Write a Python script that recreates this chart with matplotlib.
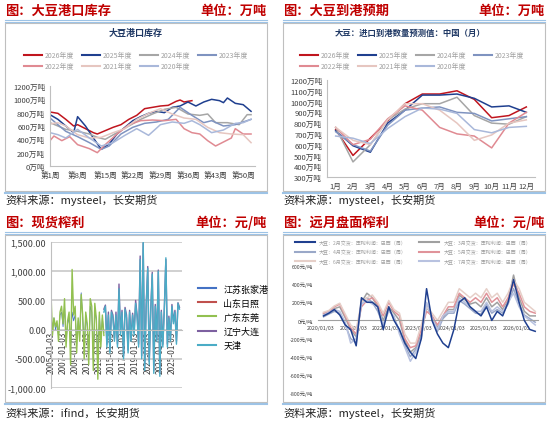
import numpy as np
import pandas as pd
import matplotlib
matplotlib.use("Agg")
import matplotlib.pyplot as plt
from matplotlib.patches import Rectangle
from matplotlib.lines import Line2D

plt.rcParams["font.family"] = ["Noto Sans CJK SC", "DejaVu Sans"]

W, H = 550, 427

# ---------------- data: port inventory (weekly) ----------------
inv = {
    "2026年度": ([1, 3, 5, 7, 8, 10, 12, 13, 15, 17, 19, 21, 23, 25, 27, 29, 31, 33, 34, 35, 37],
               [810, 790, 700, 600, 620, 560, 500, 480, 530, 580, 620, 700, 760, 860, 880, 900, 910, 970, 990, 960, 980]),
    "2025年度": ([1, 3, 5, 7, 8, 10, 12, 14, 16, 18, 20, 22, 24, 26, 28, 30, 32, 34, 36, 38, 40, 42, 44, 45, 46, 48, 50, 52],
               [770, 700, 600, 500, 740, 600, 420, 250, 330, 480, 580, 680, 740, 790, 820, 800, 880, 900, 960, 900, 960, 1000, 980, 950, 1020, 940, 920, 820]),
    "2024年度": ([1, 3, 5, 8, 11, 13, 15, 18, 21, 24, 27, 30, 33, 36, 39, 41, 43, 46, 49, 51, 52],
               [650, 600, 550, 520, 480, 430, 400, 500, 600, 700, 780, 850, 880, 780, 760, 780, 650, 650, 620, 770, 770]),
    "2023年度": ([1, 3, 5, 8, 11, 14, 16, 19, 22, 25, 28, 31, 34, 37, 40, 42, 45, 48, 50, 52],
               [720, 620, 520, 440, 350, 250, 300, 480, 580, 640, 660, 700, 880, 760, 650, 680, 600, 620, 660, 700]),
    "2022年度": ([1, 2, 4, 6, 8, 11, 13, 15, 18, 21, 24, 27, 30, 33, 35, 37, 39, 41, 43, 45, 47, 48, 50, 52],
               [380, 450, 380, 440, 320, 260, 200, 320, 480, 620, 680, 690, 680, 700, 560, 500, 480, 380, 300, 360, 420, 560, 480, 480]),
    "2021年度": ([1, 3, 5, 8, 11, 14, 17, 20, 23, 26, 29, 32, 35, 38, 41, 44, 47, 50, 52],
               [630, 650, 600, 470, 420, 430, 500, 560, 700, 790, 860, 780, 720, 700, 580, 500, 480, 470, 350]),
    "2020年度": ([1, 3, 5, 8, 11, 14, 17, 20, 23, 26, 29, 32, 35, 37, 39, 42, 45, 48, 50, 52],
               [500, 470, 420, 550, 420, 300, 350, 460, 560, 460, 620, 660, 640, 680, 620, 500, 540, 640, 650, 700]),
}
year_colors = {"2026年度": "#C0151E", "2025年度": "#1F3F8F", "2024年度": "#A6A6A6", "2023年度": "#7F93C0",
               "2022年度": "#E08A92", "2021年度": "#E6C6C0", "2020年度": "#A9B8DA"}

# ---------------- data: arrivals forecast (monthly) ----------------
months = ["1月", "2月", "3月", "4月", "5月", "6月", "7月", "8月", "9月", "10月", "11月", "12月"]
arr = {
    "2026年度": [740, 500, 660, 820, 980, 1070, 1070, 1100, 1020, 850, 870, 950],
    "2025年度": [730, 590, 530, 800, 920, 1060, 1060, 1070, 1030, 950, 960, 900],
    "2024年度": [760, 440, 600, 830, 930, 980, 980, 1040, 870, 800, 790, 860],
    "2023年度": [720, 600, 540, 780, 920, 940, 950, 900, 890, 820, 840, 860],
    "2022年度": [760, 600, 650, 840, 960, 920, 760, 700, 680, 570, 800, 900],
    "2021年度": [760, 640, 600, 830, 980, 980, 920, 800, 640, 690, 800, 830],
    "2020年度": [680, 660, 610, 750, 860, 940, 930, 890, 740, 710, 760, 770],
}

# ---------------- data: spot crush margin (quarterly) ----------------
gd_vals = [650, -100, 200, 50, 150, -200, 300, 400, 100, 530, -300, 150, 300, -600, 1030, 250, 400, -400,
           200, -200, 600, 250, -500, 300, 100, -600, 530, 400, -700, 450, 200, -850, 300, -300, 250, -100]
js_vals = [0, 50, 200, 0, 100, -100, 250, 300, 50, 400, -200, 100, 200, -300, 300, 150, 250, -200,
           150, -100, 630, 200, -300, 250, 50, -400, 400, 300, -500, 350, 150, -500, 250, -200, 200, -50]
tj_vals = [300, 400, -300, 250, -400, 300, 200, -200, 250, -300, 700, -100, 300, -500, 350, 200, -400, 300,
           -200, 250, -100, 450, 200, -300, 1200, -500, 1500, -700, 400, 1050, -600, 300, 950, -750, 400, -200,
           1000, -800, 300, -300, 350, 1230, -300, 200, -200, 400, 100, 300, -250, 450, 350]
ln_vals = [350, 420, -250, 300, -350, 330, 250, -150, 300, -250, 780, -50, 330, -450, 380, 250, -350, 330,
           -150, 280, -50, 500, 250, -250, 1260, -450, 1480, -650, 450, 1080, -550, 350, 980, -700, 430, -150,
           1020, -750, 330, -250, 380, 1200, -250, 230, -150, 430, 130, 330, -200, 460, 380]
gd_dates = pd.date_range("2005-01-01", periods=len(gd_vals), freq="QS")
tj_dates = pd.date_range("2013-10-01", periods=len(tj_vals), freq="QS")

# ---------------- data: futures crush margin (bi-monthly) ----------------
fut = {
    "大豆：2月交货：压榨利润：巴西（周）": [50, 80, 120, 60, -50, -100, -280, 250, 200, 200, 150, -100, 150, 0, -100, -250, -350, -420,
                          -200, 350, 0, -150, -250, -300, -100, 200, 250, 150, 100, 50, 150, 0, 100, 50, 200, 450,
                          200, 0, -100, -120],
    "大豆：3月交货：压榨利润：巴西（周）": [70, 90, 130, 150, 30, -100, -180, 200, 300, 250, 150, 0, 150, 80, 0, -220, -350, -300,
                          -150, 150, 50, -80, 30, 120, 120, 280, 230, 180, 200, 150, 250, 150, 200, 120, 220, 500,
                          250, 100, 50, 50],
    "大豆：4月交货：压榨利润：巴西（周）": [40, 70, 100, 80, -50, -200, -250, 200, 250, 200, 100, -50, 120, 30, -120, -280, -400, -320,
                          -180, 180, 20, -120, 20, 80, 80, 220, 180, 130, 80, 70, 180, 80, 120, 80, 180, 350,
                          180, 60, 20, -20],
    "大豆：5月交货：压榨利润：巴西（周）": [80, 100, 150, 180, 50, -80, -150, 150, 220, 250, 180, 50, 200, 100, 50, -200, -300, -280,
                          -100, 100, 50, -50, 50, 150, 150, 300, 250, 200, 250, 200, 300, 200, 250, 150, 250, 400,
                          300, 150, 100, 80],
    "大豆：6月交货：压榨利润：巴西（周）": [90, 110, 160, 190, 70, -50, -100, 200, 250, 280, 200, 80, 220, 120, 80, -150, -250, -250,
                          -50, 150, 80, 0, 100, 200, 200, 350, 300, 250, 300, 250, 350, 250, 300, 200, 300, 450,
                          350, 200, 150, 100],
    "大豆：7月交货：压榨利润：巴西（周）": [60, 90, 120, 100, -20, -250, -200, 180, 220, 180, 150, -50, 100, 50, -150, -300, -450, -350,
                          -200, 200, 30, -100, 50, 100, 100, 250, 200, 150, 100, 100, 200, 100, 150, 100, 200, 300,
                          150, 50, 0, -50],
}
fut_colors = ["#1F3F8F", "#A0A0A0", "#9AA8C8", "#E0939A", "#E6CFC8", "#B8C2E0"]
fut_dates = pd.date_range("2020-01-03", periods=40, freq="2MS")


def rect(x0, y0, x1, y1):
    return [x0 / W, 1 - y1 / H, (x1 - x0) / W, (y1 - y0) / H]


def px(x, y):
    return x / W, 1 - y / H


fig = plt.figure(figsize=(5.5, 4.27), dpi=100)

# panel chrome
panels = [(5, 267, 2, 192, 200, "图：大豆港口库存", "单位：万吨", "资料来源：mysteel，长安期货"),
          (283, 545, 2, 192, 200, "图：大豆到港预期", "单位：万吨", "资料来源：mysteel，长安期货"),
          (5, 267, 214, 403, 413, "图：现货榨利", "单位：元/吨", "资料来源：ifind，长安期货"),
          (283, 545, 214, 403, 413, "图：远月盘面榨利", "单位：元/吨", "资料来源：mysteel，长安期货")]
for x0, x1, yt, yb, ys, title, unit, src in panels:
    fig.text(*px(x0, yt + 9), title, color="#C00000", fontsize=9.5, fontweight="bold", va="center")
    fig.text(*px(x1, yt + 9), unit, color="#C00000", fontsize=9.5, fontweight="bold", va="center", ha="right")
    for yy in (yt + 19, yt + 21):
        fig.add_artist(Line2D([x0 / W, x1 / W], [1 - yy / H] * 2, color="#9DC3E6", lw=0.8))
    fig.add_artist(Rectangle(px(x0, yb), (x1 - x0) / W, (yb - yt - 22) / H, fill=False, ec="#BFBFBF", lw=0.8))
    fig.add_artist(Line2D([x0 / W, x1 / W], [1 - (yb + 2) / H] * 2, color="#9DC3E6", lw=1.5))
    fig.text(*px(x0, ys), src, color="#222222", fontsize=8, va="center")

# ---- top-left: port inventory ----
ax1 = fig.add_axes(rect(50, 87, 255, 167))
for k, (wk, v) in inv.items():
    ax1.plot(wk, v, color=year_colors[k], lw=1.1)
ax1.set_ylim(0, 1200)
ax1.set_yticks(range(0, 1201, 200))
ax1.set_yticklabels([f"{v}万吨" for v in range(0, 1201, 200)])
ax1.set_xlim(1, 53)
ax1.set_xticks(range(1, 53, 7))
ax1.set_xticklabels([f"第{w}周" for w in range(1, 53, 7)])
fig.text(*px(136, 33), "大豆港口库存", ha="center", va="center", fontsize=6.5, color="#1F3864", fontweight="bold")

# ---- top-right: arrivals ----
ax2 = fig.add_axes(rect(327, 81, 535, 178))
for k, v in arr.items():
    ax2.plot(range(1, 13), v, color=year_colors[k], lw=1.1)
ax2.set_xlim(0.5, 12.5)
ax2.set_ylim(300, 1200)
ax2.set_yticks(range(300, 1201, 100))
ax2.set_yticklabels([f"{v}万吨" for v in range(300, 1201, 100)])
ax2.set_xticks(range(1, 13))
ax2.set_xticklabels(months)
fig.text(*px(410, 33), "大豆：进口到港数量预测值：中国（月）", ha="center", va="center", fontsize=6,
         color="#1F3864", fontweight="bold")

keys = list(inv.keys())
leg_order = [0, 4, 1, 5, 2, 6, 3]  # fill rows left-to-right
for ax, cx in ((ax1, 136), (ax2, 412)):
    for s in ("top", "right"):
        ax.spines[s].set_visible(False)
    for s in ("left", "bottom"):
        ax.spines[s].set_color("#BFBFBF")
    ax.tick_params(labelsize=5.5, length=0, colors="#404040")
    handles = [Line2D([], [], color=year_colors[keys[i]], lw=1.5) for i in leg_order]
    leg = fig.legend(handles, [keys[i] for i in leg_order], ncol=4, loc="upper center", bbox_to_anchor=px(cx, 46),
                     fontsize=5, frameon=False, handlelength=2.6, handletextpad=0.5, columnspacing=1.0,
                     labelspacing=0.4)
    for t in leg.get_texts():
        t.set_color("#A0A0A0")

# ---- bottom-left: spot crush margin ----
ax3 = fig.add_axes(rect(51, 243, 182, 389))
ax3.set_axisbelow(True)
ax3.grid(axis="y", color="#C8C8C8", lw=1.2)
ax3.plot(gd_dates, gd_vals, color="#92C050", lw=1, label="广东东莞")
ax3.plot(gd_dates, js_vals, color="#4472C4", lw=0.6, label="江苏张家港", zorder=1)
ax3.plot(tj_dates, ln_vals, color="#7D60A0", lw=1, label="辽宁大连")
ax3.plot(tj_dates, tj_vals, color="#4BACC6", lw=1, label="天津")
ax3.spines["bottom"].set_position(("data", 0))
ax3.set_ylim(-1000, 1500)
ax3.set_yticks(range(-1000, 1501, 500))
ax3.set_yticklabels([f"{v:,.2f}" for v in range(-1000, 1501, 500)])
ax3.set_xlim(pd.Timestamp("2005-01-03"), pd.Timestamp("2026-09-01"))
ticks3 = [pd.Timestamp(f"{y}-01-03") for y in range(2005, 2026, 2)]
ax3.set_xticks(ticks3)
ax3.set_xticklabels([t.strftime("%Y-%m-%d") for t in ticks3], rotation=90, va="top")
for s in ("top", "right"):
    ax3.spines[s].set_visible(False)
ax3.spines["left"].set_color("#BFBFBF")
ax3.spines["bottom"].set_color("#BFBFBF")
ax3.tick_params(axis="y", labelsize=6.5, length=0, colors="#404040")
ax3.tick_params(axis="x", labelsize=6, length=0, colors="#404040", labelrotation=90, pad=1)
h3 = [Line2D([], [], color=c, lw=1.5) for c in ("#4472C4", "#C0504D", "#92C050", "#7D60A0", "#4BACC6")]
fig.legend(h3, ["江苏张家港", "山东日照", "广东东莞", "辽宁大连", "天津"], loc="center left",
           bbox_to_anchor=px(190, 318), fontsize=6.5, frameon=False, handlelength=2, labelspacing=0.55)

# ---- bottom-right: futures crush margin ----
ax4 = fig.add_axes(rect(318, 267, 538, 394))
for (k, v), c in zip(fut.items(), fut_colors):
    ax4.plot(fut_dates, v, color=c, lw=1.1, label=k, zorder=3 if c == "#1F3F8F" else 2)
ax4.spines["bottom"].set_position(("data", 0))
ax4.set_ylim(-800, 600)
ax4.set_yticks(range(-800, 601, 200))
ax4.set_yticklabels([f"{v}元/吨" for v in range(-800, 601, 200)])
ax4.set_xlim(pd.Timestamp("2019-12-01"), pd.Timestamp("2026-09-01"))
ticks4 = [pd.Timestamp(f"{y}-01-03") for y in range(2020, 2027)]
ax4.set_xticks(ticks4)
ax4.set_xticklabels([t.strftime("%Y/%m/%d") for t in ticks4])
for s in ("top", "right", "left"):
    ax4.spines[s].set_visible(False)
ax4.spines["bottom"].set_color("#A0A0A0")
ax4.tick_params(labelsize=3.8, length=0, colors="#404040")
fkeys = list(fut.keys())
forder = [0, 2, 4, 1, 3, 5]
h4 = [Line2D([], [], color=fut_colors[i], lw=1.5) for i in forder]
leg4 = fig.legend(h4, [fkeys[i] for i in forder], ncol=2, loc="upper center", bbox_to_anchor=px(413, 236),
                  fontsize=3.6, frameon=False, handlelength=4, columnspacing=2.5, labelspacing=0.8)
for t in leg4.get_texts():
    t.set_color("#A0A0A0")

fig.savefig("out.png", dpi=100)
